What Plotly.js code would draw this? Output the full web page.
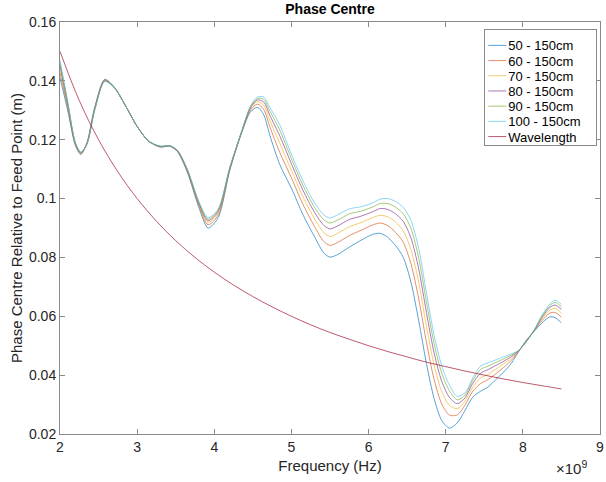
<!DOCTYPE html>
<html>
<head>
<meta charset="utf-8">
<script src="https://cdn.plot.ly/plotly-3.0.1.min.js"></script>
<style>html,body{margin:0;padding:0;background:#fff;}#chart{width:606px;height:482px;}</style>
</head>
<body>
<div id="chart"></div>
<script>
// Frequency in units of 1e9 Hz
const freq = [2.00, 2.10, 2.20, 2.27, 2.35, 2.45, 2.58, 2.70, 2.85, 3.00, 3.15, 3.30, 3.42, 3.52, 3.65, 3.80, 3.92, 4.05, 4.20, 4.35, 4.47, 4.56, 4.64, 4.72, 4.85, 5.00, 5.15, 5.30, 5.42, 5.50, 5.60, 5.75, 5.90, 6.05, 6.15, 6.25, 6.35, 6.45, 6.55, 6.65, 6.75, 6.85, 6.95, 7.05, 7.15, 7.25, 7.35, 7.45, 7.55, 7.65, 7.75, 7.85, 7.95, 8.05, 8.15, 8.25, 8.35, 8.42, 8.50];

const s50 = [0.1410, 0.1300, 0.1180, 0.1150, 0.1190, 0.1310, 0.1405, 0.1380, 0.1315, 0.1245, 0.1195, 0.1175, 0.1178, 0.1160, 0.1090, 0.0970, 0.0900, 0.0935, 0.1095, 0.1220, 0.1295, 0.1310, 0.1285, 0.1215, 0.1115, 0.1035, 0.0945, 0.0870, 0.0815, 0.0801, 0.0810, 0.0835, 0.0858, 0.0878, 0.0882, 0.0868, 0.0840, 0.0800, 0.0715, 0.0585, 0.0440, 0.0320, 0.0245, 0.0220, 0.0238, 0.0280, 0.0325, 0.0345, 0.0360, 0.0385, 0.0410, 0.0440, 0.0482, 0.0520, 0.0550, 0.0578, 0.0598, 0.0595, 0.0578];

const s60 = [0.1428, 0.1309, 0.1183, 0.1152, 0.1189, 0.1307, 0.1403, 0.1379, 0.1315, 0.1245, 0.1195, 0.1176, 0.1179, 0.1162, 0.1093, 0.0976, 0.0911, 0.0944, 0.1098, 0.1222, 0.1301, 0.1321, 0.1303, 0.1244, 0.1156, 0.1070, 0.0980, 0.0905, 0.0854, 0.0841, 0.0851, 0.0874, 0.0892, 0.0910, 0.0917, 0.0908, 0.0885, 0.0851, 0.0778, 0.0659, 0.0512, 0.0385, 0.0301, 0.0264, 0.0265, 0.0298, 0.0345, 0.0371, 0.0385, 0.0405, 0.0426, 0.0450, 0.0483, 0.0519, 0.0552, 0.0586, 0.0611, 0.0613, 0.0597];

const s70 = [0.1442, 0.1316, 0.1185, 0.1154, 0.1187, 0.1305, 0.1401, 0.1379, 0.1315, 0.1245, 0.1195, 0.1177, 0.1179, 0.1163, 0.1095, 0.0981, 0.0919, 0.0951, 0.1100, 0.1223, 0.1306, 0.1329, 0.1317, 0.1265, 0.1187, 0.1096, 0.1006, 0.0931, 0.0884, 0.0871, 0.0882, 0.0904, 0.0918, 0.0935, 0.0943, 0.0938, 0.0920, 0.0890, 0.0826, 0.0715, 0.0567, 0.0434, 0.0343, 0.0297, 0.0286, 0.0312, 0.0359, 0.0390, 0.0403, 0.0421, 0.0438, 0.0457, 0.0484, 0.0517, 0.0553, 0.0592, 0.0621, 0.0627, 0.0611];

const s80 = [0.1453, 0.1322, 0.1187, 0.1156, 0.1186, 0.1303, 0.1400, 0.1379, 0.1315, 0.1245, 0.1195, 0.1177, 0.1179, 0.1164, 0.1097, 0.0984, 0.0925, 0.0957, 0.1102, 0.1224, 0.1309, 0.1335, 0.1328, 0.1283, 0.1212, 0.1118, 0.1028, 0.0953, 0.0909, 0.0897, 0.0907, 0.0929, 0.0940, 0.0955, 0.0966, 0.0963, 0.0948, 0.0922, 0.0866, 0.0761, 0.0613, 0.0475, 0.0378, 0.0324, 0.0303, 0.0323, 0.0372, 0.0406, 0.0419, 0.0433, 0.0447, 0.0463, 0.0484, 0.0516, 0.0554, 0.0597, 0.0630, 0.0638, 0.0623];

const s90 = [0.1462, 0.1326, 0.1189, 0.1157, 0.1186, 0.1301, 0.1399, 0.1378, 0.1315, 0.1245, 0.1195, 0.1178, 0.1180, 0.1164, 0.1099, 0.0987, 0.0930, 0.0961, 0.1104, 0.1224, 0.1312, 0.1340, 0.1337, 0.1298, 0.1232, 0.1135, 0.1045, 0.0970, 0.0928, 0.0917, 0.0927, 0.0948, 0.0957, 0.0971, 0.0983, 0.0983, 0.0971, 0.0948, 0.0898, 0.0798, 0.0649, 0.0507, 0.0406, 0.0346, 0.0316, 0.0332, 0.0382, 0.0419, 0.0431, 0.0443, 0.0455, 0.0468, 0.0485, 0.0516, 0.0554, 0.0601, 0.0636, 0.0647, 0.0632];

const s100 = [0.1470, 0.1330, 0.1190, 0.1158, 0.1185, 0.1300, 0.1398, 0.1378, 0.1315, 0.1245, 0.1195, 0.1178, 0.1180, 0.1165, 0.1100, 0.0990, 0.0935, 0.0965, 0.1105, 0.1225, 0.1315, 0.1345, 0.1345, 0.1310, 0.1250, 0.1150, 0.1060, 0.0985, 0.0945, 0.0934, 0.0945, 0.0965, 0.0972, 0.0985, 0.0998, 0.1000, 0.0990, 0.0970, 0.0925, 0.0830, 0.0680, 0.0535, 0.0430, 0.0365, 0.0328, 0.0340, 0.0390, 0.0430, 0.0442, 0.0452, 0.0462, 0.0472, 0.0485, 0.0515, 0.0555, 0.0605, 0.0642, 0.0655, 0.0640];

const wlFreq = [2.00, 2.25, 2.50, 2.75, 3.00, 3.25, 3.50, 3.75, 4.00, 4.25, 4.50, 4.75, 5.00, 5.25, 5.50, 5.75, 6.00, 6.25, 6.50, 6.75, 7.00, 7.25, 7.50, 7.75, 8.00, 8.25, 8.50];
const wavelength = [0.1500, 0.1333, 0.1200, 0.1091, 0.1000, 0.0923, 0.0857, 0.0800, 0.0750, 0.0706, 0.0667, 0.0632, 0.0600, 0.0571, 0.0545, 0.0522, 0.0500, 0.0480, 0.0462, 0.0444, 0.0429, 0.0414, 0.0400, 0.0387, 0.0375, 0.0364, 0.0353];

const seriesNames = ['50 - 150cm', '60 - 150cm', '70 - 150cm', '80 - 150cm', '90 - 150cm', '100 - 150cm', 'Wavelength'];
const seriesColors = ['#0072BD', '#D95319', '#EDB120', '#7E2F8E', '#77AC30', '#4DBEEE', '#A2142F'];

const xTickVals = [2, 3, 4, 5, 6, 7, 8, 9];
const xTickText = ['2', '3', '4', '5', '6', '7', '8', '9'];
const yTickVals = [0.02, 0.04, 0.06, 0.08, 0.1, 0.12, 0.14, 0.16];
const yTickText = ['0.02', '0.04', '0.06', '0.08', '0.1', '0.12', '0.14', '0.16'];

const ys = [s50, s60, s70, s80, s90, s100];
const traces = ys.map((y, i) => ({
  x: freq, y: y, type: 'scatter', mode: 'lines', name: seriesNames[i],
  line: {color: seriesColors[i], width: 1, shape: 'spline', smoothing: 0.8},
  opacity: 0.65
}));
traces.push({
  x: wlFreq, y: wavelength, type: 'scatter', mode: 'lines', name: seriesNames[6],
  line: {color: seriesColors[6], width: 1, shape: 'spline'}, opacity: 0.7
});

const font = 'Liberation Sans, Arial, Helvetica, sans-serif';
const axisCommon = {
  showline: true, linecolor: '#8a8a8a', linewidth: 1, mirror: 'ticks',
  ticks: 'inside', ticklen: 5, tickcolor: '#8a8a8a', tickwidth: 1,
  showgrid: false, zeroline: false, tickmode: 'array',
  tickfont: {family: font, size: 14, color: '#262626'}
};

const layout = {
  width: 606, height: 482,
  margin: {l: 60, r: 6, t: 22, b: 48},
  paper_bgcolor: '#fff', plot_bgcolor: '#fff',
  font: {family: font, color: '#262626'},
  title: {text: '<b>Phase Centre</b>', font: {family: font, size: 14, color: '#000'},
          x: 0.5, xref: 'paper', xanchor: 'center', y: 0.981, yref: 'container', yanchor: 'middle'},
  xaxis: Object.assign({}, axisCommon, {
    range: [2, 9], tickvals: xTickVals, ticktext: xTickText,
    title: {text: 'Frequency (Hz)', font: {family: font, size: 15, color: '#262626'}, standoff: 6}
  }),
  yaxis: Object.assign({}, axisCommon, {
    range: [0.02, 0.16], tickvals: yTickVals, ticktext: yTickText,
    title: {text: 'Phase Centre Relative to Feed Point (m)', font: {family: font, size: 15, color: '#262626'}, standoff: 2}
  }),
  showlegend: true,
  legend: {
    x: 0.995, xanchor: 'right', y: 0.982, yanchor: 'top',
    bgcolor: '#fff', bordercolor: '#8a8a8a', borderwidth: 1,
    font: {family: font, size: 13, color: '#000'},
    itemwidth: 30, tracegroupgap: 0
  },
  annotations: [{
    text: '×10<sup>9</sup>', xref: 'paper', yref: 'paper', x: 0.948, y: -0.082,
    xanchor: 'center', yanchor: 'middle', showarrow: false,
    font: {family: font, size: 15, color: '#262626'}
  }]
};

function compactLegend() {
  try {
    const lg = document.querySelector('g.legend');
    if (!lg) return;
    const bg = lg.querySelector('rect.bg');
    const items = lg.querySelectorAll('g.traces');
    if (!items.length || !bg) return;
    const parse = (el) => {
      const m = /translate\(\s*([-\d.]+)[ ,]+([-\d.]+)\s*\)/.exec(el.getAttribute('transform') || '');
      return m ? [parseFloat(m[1]), parseFloat(m[2])] : [0, 0];
    };
    const y0 = parse(items[0])[1];
    const step = 15.2;
    const textShift = 17;
    const boxShrink = 7;
    items.forEach((it, i) => {
      const p = parse(it);
      it.setAttribute('transform', 'translate(' + p[0] + ',' + (y0 + i * step) + ')');
      const txt = it.querySelector('text.legendtext');
      if (txt) txt.setAttribute('x', parseFloat(txt.getAttribute('x')) - textShift);
      it.querySelectorAll('.legendlines path').forEach(pth => pth.setAttribute('d', 'M3,0h18'));
    });
    const newH = y0 * 2 + (items.length - 1) * step - 8;
    const oldW = parseFloat(bg.getAttribute('width'));
    bg.setAttribute('height', newH);
    bg.setAttribute('width', oldW - boxShrink);
    const lp = parse(lg);
    lg.setAttribute('transform', 'translate(' + (lp[0] + boxShrink) + ',' + lp[1] + ')');
  } catch (e) {}
}

Plotly.newPlot('chart', traces, layout, {displayModeBar: false, staticPlot: true}).then(compactLegend);
</script>
</body>
</html>
